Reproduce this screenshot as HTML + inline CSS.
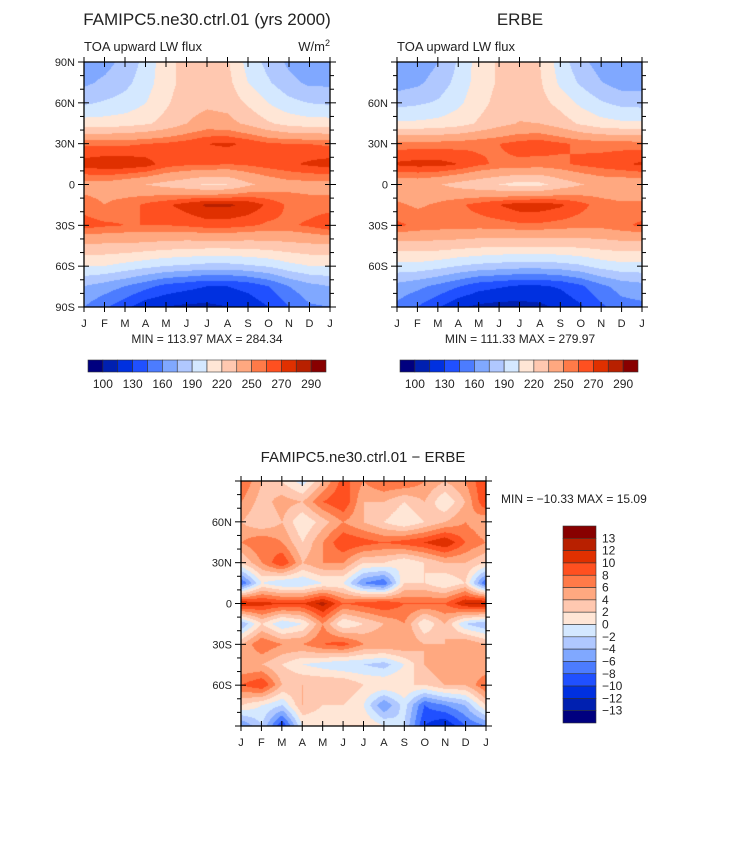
<!DOCTYPE html>
<html><head><meta charset="utf-8">
<style>
body{margin:0;background:#fff;width:733px;height:848px;overflow:hidden;font-family:"Liberation Sans",sans-serif;}
#root{position:relative;width:733px;height:848px;}
canvas{position:absolute;}
svg{position:absolute;left:0;top:0;}
</style></head>
<body>
<div id="root">
<canvas id="c1" width="246" height="245" style="left:84px;top:62px"></canvas>
<canvas id="c2" width="245" height="245" style="left:397px;top:62px"></canvas>
<canvas id="c3" width="245" height="245" style="left:241px;top:481px"></canvas>
<svg id="ov" width="733" height="848"></svg>
</div>
<script>
// ---- data ----
const months = ["J","F","M","A","M","J","J","A","S","O","N","D","J"];
const latLabelsFull = ["90N","60N","30N","0","30S","60S","90S"];
const topLevels = [100,115,130,145,160,175,190,205,220,235,250,260,270,280,290];
const topLabels = ["100","130","160","190","220","250","270","290"];
const diffLevels = [-13,-12,-10,-8,-6,-4,-2,0,2,4,6,8,10,12,13];
const diffLabels = ["-13","-12","-10","-8","-6","-4","-2","0","2","4","6","8","10","12","13"];
const colors = ["#00007f","#0020b0","#0030e0","#2050ff","#4c7cff","#80a8ff","#b0c8ff","#d4e8ff","#ffe6d6","#ffc8b0","#ffa880","#ff7a48","#ff5020","#e03000","#b82000","#880000"];
// rows: 90N,75N,60N,45N,30N,15N,0,15S,30S,45S,60S,75S,90S ; cols: Jan..Jan
const modelData = [
[168,170,180,195,215,225,228,222,200,185,172,165,168],
[172,178,186,198,215,225,228,225,205,192,180,172,172],
[188,192,196,205,218,228,232,230,218,205,195,190,188],
[212,212,214,218,225,235,242,240,232,222,215,212,212],
[258,258,258,260,262,265,270,272,268,262,260,260,258],
[275,278,278,275,265,262,262,260,262,265,268,272,275],
[245,245,240,235,230,225,218,220,232,240,245,245,245],
[255,250,255,262,268,275,282,282,278,268,258,255,255],
[265,262,260,260,260,262,265,265,262,258,258,262,268],
[232,232,232,230,228,226,226,226,226,228,230,232,232],
[205,205,200,195,190,188,185,185,188,192,200,205,205],
[175,168,160,150,140,135,130,130,135,145,160,170,175],
[160,148,135,120,115,112,112,115,120,130,145,158,160]];
const erbeData = [
[162,165,175,192,212,222,225,220,198,180,168,160,162],
[168,172,182,195,212,222,225,222,202,188,176,168,168],
[185,188,192,202,215,225,228,226,215,202,192,186,185],
[208,208,210,214,222,230,236,235,228,218,211,208,208],
[255,255,255,256,258,260,264,266,262,258,256,256,255],
[272,274,274,270,262,258,258,256,258,262,265,268,272],
[240,240,236,230,225,220,214,216,226,234,240,240,240],
[252,248,252,258,264,270,276,276,272,264,255,252,252],
[262,258,256,256,255,256,258,258,256,254,254,258,262],
[228,228,228,226,224,222,222,222,222,224,226,228,228],
[200,200,196,190,186,184,182,182,184,188,196,200,200],
[170,164,156,146,136,132,128,128,132,142,156,166,170],
[156,145,132,118,112,110,110,112,118,128,142,154,156]];
const diffData = [
[8,4,2,-1,4,9,6,8,8,6,4,6,10],
[6,3,5,4,8,10,4,4,2,4,0,4,10],
[4,2,4,0,3,6,4,2,0,2,4,6,4],
[6,8,6,2,6,10,9,8,9,10,12,8,6],
[2,6,10,4,6,6,2,2,0,2,4,4,2],
[-8,0,-2,-2,0,0,-6,-8,2,2,0,2,-8],
[12,11,10,10,13,8,9,10,8,8,8,12,13],
[-4,2,-2,0,6,0,2,4,6,0,4,-2,-4],
[4,8,6,6,8,9,6,6,6,4,4,6,4],
[4,4,2,0,-1,-2,-2,-3,0,4,6,4,4],
[8,10,4,4,4,4,2,2,2,2,4,4,8],
[2,0,-2,4,2,2,0,-6,-1,-8,-6,-4,2],
[-6,-2,-10,0,0,2,2,0,-2,-10,-12,-8,-6]];

function colorFor(v,levels){let i=0;while(i<levels.length&&v>=levels[i])i++;return colors[i];}
function hexRgb(h){return [parseInt(h.substr(1,2),16),parseInt(h.substr(3,2),16),parseInt(h.substr(5,2),16)];}
function drawField(id,data,levels){
  const c=document.getElementById(id),ctx=c.getContext('2d'),W=c.width,H=c.height;
  const img=ctx.createImageData(W,H);const nr=data.length,nc=data[0].length;
  for(let y=0;y<H;y++){const fy=y/(H-1)*(nr-1);const r0=Math.min(Math.floor(fy),nr-2),ty=fy-r0;
    for(let x=0;x<W;x++){const fx=x/(W-1)*(nc-1);const c0=Math.min(Math.floor(fx),nc-2),tx=fx-c0;
      const v=(data[r0][c0]*(1-tx)+data[r0][c0+1]*tx)*(1-ty)+(data[r0+1][c0]*(1-tx)+data[r0+1][c0+1]*tx)*ty;
      const rgb=hexRgb(colorFor(v,levels));const k=(y*W+x)*4;
      img.data[k]=rgb[0];img.data[k+1]=rgb[1];img.data[k+2]=rgb[2];img.data[k+3]=255;}}
  ctx.putImageData(img,0,0);
}
drawField('c1',modelData,topLevels);
drawField('c2',erbeData,topLevels);
drawField('c3',diffData,diffLevels);

const NS="http://www.w3.org/2000/svg";const ov=document.getElementById('ov');
function el(tag,attrs,parent){const e=document.createElementNS(NS,tag);for(const k in attrs)e.setAttribute(k,attrs[k]);(parent||ov).appendChild(e);return e;}
function txt(x,y,s,size,anchor,name){const t=el('text',{x:x,y:y,'font-size':size,'text-anchor':anchor||'start','font-family':'Liberation Sans, sans-serif',fill:'#222'});t.textContent=s;


return t;}
function axes(x0,y0,w,h,latLabels,prefix){
  const b=el('rect',{x:x0,y:y0,width:w,height:h,fill:'none',stroke:'#000','stroke-width':1.3});
  
  
  for(let i=0;i<months.length;i++){const x=x0+i*w/12;
    el('line',{x1:x,x2:x,y1:y0-5,y2:y0+5,stroke:'#000'});
    el('line',{x1:x,x2:x,y1:y0+h-5,y2:y0+h+5,stroke:'#000'});
    txt(x,y0+h+20,months[i],11,'middle',prefix+'-month-label');}
  for(let j=0;j<=18;j++){const y=y0+j*h/18;const major=j%3===0;
    el('line',{x1:x0-(major?6:4),x2:x0+(major?5:0),y1:y,y2:y,stroke:'#000'});
    el('line',{x1:x0+w-(major?5:0),x2:x0+w+(major?6:4),y1:y,y2:y,stroke:'#000'});
    if(major&&latLabels[j/3])txt(x0-9,y+4,latLabels[j/3],11,'end',prefix+'-lat-label');}
}
axes(84,62,246,245,latLabelsFull,'model');
axes(397,62,245,245,["","60N","30N","0","30S","60S",""],'erbe');
axes(241,481,245,245,["","60N","30N","0","30S","60S",""],'diff');

txt(207,25,"FAMIPC5.ne30.ctrl.01 (yrs 2000)",17,'middle','model-title');
txt(84,51,"TOA upward LW flux",13,'start','model-subtitle');
const u=txt(330,51,"W/m",13,'end','units-label');const sup=el('tspan',{dy:-5,'font-size':9},u);sup.textContent="2";
txt(520,25,"ERBE",17,'middle','erbe-title');
txt(397,51,"TOA upward LW flux",13,'start','erbe-subtitle');
txt(207,343,"MIN = 113.97 MAX = 284.34",12,'middle','model-min-max');
txt(520,343,"MIN = 111.33 MAX = 279.97",12,'middle','erbe-min-max');
txt(363,462,"FAMIPC5.ne30.ctrl.01 \u2212 ERBE",15,'middle','diff-title');
txt(501,503,"MIN = \u221210.33 MAX =  15.09",12,'start','diff-min-max');

function hbar(x0,y0,w,h,prefix){const bw=w/colors.length;
  colors.forEach((c,i)=>{const r=el('rect',{x:x0+i*bw,y:y0,width:bw,height:h,fill:c,stroke:'#333','stroke-width':0.6});
    
    });
  topLabels.forEach((l,k)=>{txt(x0+(2*k+1)*bw,y0+h+16,l,12,'middle',prefix+'-colorbar-label');});
}
hbar(88,360,238,12,'model');
hbar(400,360,238,12,'erbe');
// vertical colorbar for difference
(function(){const x0=563,y0=526,w=33,h=197,bh=h/colors.length;
  for(let i=0;i<colors.length;i++){const r=el('rect',{x:x0,y:y0+i*bh,width:w,height:bh,fill:colors[colors.length-1-i],stroke:'#333','stroke-width':0.6});
    
    }
  for(let i=0;i<diffLevels.length;i++){const lv=diffLevels[diffLevels.length-1-i];
    txt(602,y0+(i+1)*bh+4,diffLabels[diffLabels.length-1-i].replace('-','\u2212'),12,'start','diff-colorbar-label');}
})();
</script>
</body></html>
